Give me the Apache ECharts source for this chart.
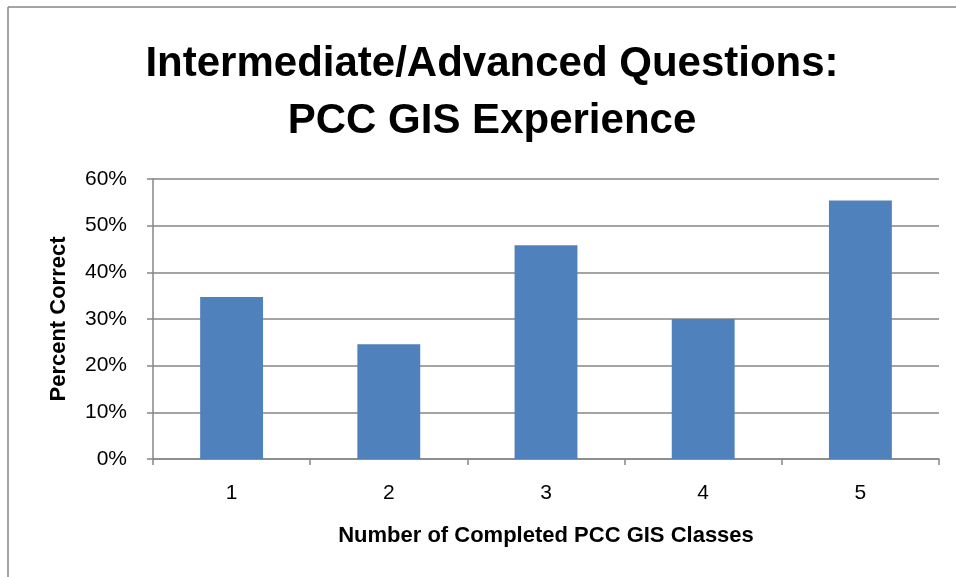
<!DOCTYPE html>
<html>
<head>
<meta charset="utf-8">
<title>Intermediate/Advanced Questions: PCC GIS Experience</title>
<script src="https://cdn.jsdelivr.net/npm/echarts@6/dist/echarts.min.js"></script>
<style>
  html, body { margin: 0; padding: 0; background: #fff; }
  #main { width: 956px; height: 577px; }
</style>
</head>
<body>
<div id="main"></div>
<script>
// data
var classes = ['1', '2', '3', '4', '5'];
var percentCorrect = [34.7, 24.6, 45.8, 30.0, 55.4];
var yTicks = [0, 10, 20, 30, 40, 50, 60];

var chart = echarts.init(document.getElementById('main'));

var font = 'Liberation Sans';

var option = {
    animation: false,
    backgroundColor: '#fff',
    title: {
        text: 'Intermediate/Advanced Questions:\nPCC GIS Experience',
        left: 487,
        top: 31,
        textAlign: 'center',
        textStyle: {
            fontFamily: font,
            fontWeight: 'bold',
            fontSize: 42,
            lineHeight: 57,
            color: '#000'
        }
    },
    // chart frame (top and left edges)
    graphic: [
        { type: 'line', shape: { x1: 8, y1: 7, x2: 956, y2: 7 }, style: { stroke: '#868686', lineWidth: 1.5 } },
        { type: 'line', shape: { x1: 8, y1: 7, x2: 8, y2: 577 }, style: { stroke: '#868686', lineWidth: 1.5 } }
    ],
    grid: {
        left: 153,
        right: 17,
        top: 179,
        bottom: 118,
        containLabel: false
    },
    xAxis: {
        type: 'category',
        data: classes,
        name: 'Number of Completed PCC GIS Classes',
        nameLocation: 'middle',
        nameGap: 66,
        nameTextStyle: { fontFamily: font, fontWeight: 'bold', fontSize: 22, color: '#000' },
        axisLine: { lineStyle: { color: '#868686', width: 1.5 } },
        axisTick: { show: true, length: 6, lineStyle: { color: '#868686', width: 1.5 } },
        axisLabel: { fontFamily: font, fontSize: 21, color: '#000', margin: 24 }
    },
    yAxis: {
        type: 'value',
        min: yTicks[0],
        max: yTicks[yTicks.length - 1],
        interval: 10,
        name: 'Percent Correct',
        nameLocation: 'middle',
        nameGap: 83,
        nameRotate: 90,
        nameTextStyle: { fontFamily: font, fontWeight: 'bold', fontSize: 22, color: '#000' },
        axisLine: { show: true, lineStyle: { color: '#868686', width: 1.5 } },
        axisTick: { show: true, length: 6, lineStyle: { color: '#868686', width: 1.5 } },
        axisLabel: { fontFamily: font, fontSize: 21, color: '#000', margin: 26, formatter: '{value}%' },
        splitLine: { lineStyle: { color: '#868686', width: 1.5 } }
    },
    series: [
        {
            name: 'Percent Correct',
            type: 'bar',
            data: percentCorrect,
            barWidth: '40%',
            itemStyle: { color: '#4F81BD' }
        }
    ]
};

chart.setOption(option);
</script>
</body>
</html>
